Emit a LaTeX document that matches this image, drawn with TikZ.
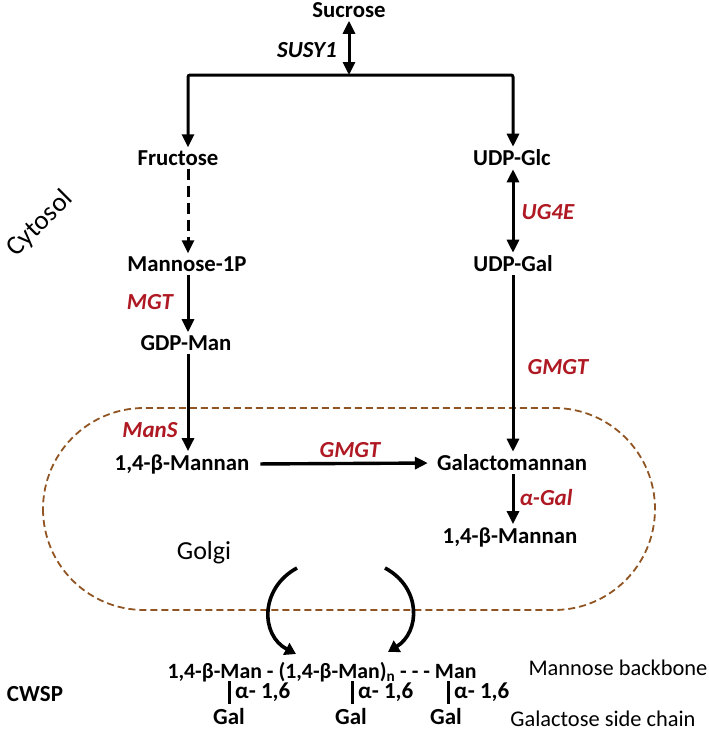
\documentclass[tikz,border=0pt]{standalone}
\usepackage{fontspec}
\setmainfont{Carlito}
\usetikzlibrary{arrows.meta}
\definecolor{enz}{RGB}{175,25,35}
\definecolor{golgic}{RGB}{145,85,35}
\begin{document}
\begin{tikzpicture}[x=1pt,y=-1pt,
  lab/.style={font=\fontsize{22.8}{25}\selectfont\bfseries, inner sep=3pt},
  enzlab/.style={font=\fontsize{23}{25}\selectfont\bfseries\itshape, text=enz, inner sep=1pt},
  reglab/.style={font=\fontsize{22.4}{25}\selectfont, inner sep=1pt},
  botlab/.style={font=\fontsize{21.8}{24}\selectfont\bfseries, inner sep=1pt},
  sublab/.style={font=\fontsize{23}{25}\selectfont\bfseries, inner sep=1pt},
  tip/.tip={Triangle[width=12pt,length=13pt]},
  arr/.style={line width=3pt, -tip},
  darr/.style={line width=3pt, tip-tip},
  curv/.style={line width=3.6pt, -{Triangle[width=13pt,length=11pt]}},
  golgiline/.style={draw=golgic, line width=1.8pt, dash pattern=on 7pt off 4pt}
]
\useasboundingbox (0,0) rectangle (709,731);

% Golgi outline
\draw[golgiline, rounded corners=101pt] (43,408) rectangle (655,610);

% labels
\node[lab] (suc) at (349,10) {Sucrose};
\node[enzlab, text=black] (susy) at (307,50) {SUSY1};
\coordinate (top) at (349,75);
\coordinate (tl) at (188,75);
\coordinate (tr) at (513,75);
\node[lab] (fru) at (178,158) {Fructose};
\node[lab] (glc) at (512,158) {UDP-Glc};
\node[lab] (m1p) at (187,264) {Mannose-1P};
\node[lab] (gal) at (513,264) {UDP-Gal};
\node[enzlab] (mgt) at (150,302) {MGT};
\node[enzlab] (ug4e) at (548,212) {UG4E};
\node[lab] (gdp) at (186,343) {GDP-Man};
\node[enzlab] (gmgt1) at (558,367) {GMGT};
\node[enzlab] (mans) at (150,430) {ManS};
\node[lab] (man1) at (182,464) {1,4-β-Mannan};
\node[lab] (gm) at (512,463) {Galactomannan};
\node[enzlab] (gmgt2) at (350,450) {GMGT};
\node[enzlab] (agal) at (546,498) {α-Gal};
\node[lab] (man2) at (510,537) {1,4-β-Mannan};
\node[font=\fontsize{26}{28}\selectfont] (golgi) at (204,553) {Golgi};
\node[font=\fontsize{27}{29}\selectfont, rotate=45, inner sep=0pt] (cyto) at (40,224) {Cytosol};

% connectors
\draw[darr] (suc.south) -- (top);
\draw[arr, rounded corners=2pt] (top) -- (tl) -- (fru.north -| tl);
\draw[arr, rounded corners=2pt] (top) -- (tr) -- (glc.north -| tr);
\draw[arr, dash pattern=on 11pt off 6pt] (fru.south -| tl) -- (m1p.north -| tl);
\draw[arr] (m1p.south -| tl) -- (gdp.north -| tl);
\draw[arr] (gdp.south -| tl) -- (man1.north -| tl);
\draw[darr] (glc.south -| tr) -- (gal.north -| tr);
\draw[arr] (gal.south -| tr) -- (gm.north -| tr);
\draw[arr, line width=3.4pt, shorten <=8pt, shorten >=6pt] (man1.east) -- (gm.west);
\draw[arr] (gm.south -| tr) -- (man2.north -| tr);

% curved arrows from Golgi to wall
\coordinate (cl1) at (297,568);
\coordinate (cl2) at (296,654);
\coordinate (cr1) at (385,568);
\coordinate (cr2) at (388,652);
\draw[curv] (cl1) .. controls (260,588) and (260,635) .. (cl2);
\draw[curv] (cr1) .. controls (422,588) and (420,632) .. (cr2);

% cell wall polysaccharide
\node[botlab] (bb) at (322,672) {1,4-β-Man - (1,4-β-Man)\textsubscript{n} - - - Man};
\coordinate (b1t) at (229,681); \coordinate (b1b) at (229,704);
\coordinate (b2t) at (352,681); \coordinate (b2b) at (352,704);
\coordinate (b3t) at (448,681); \coordinate (b3b) at (448,704);
\draw[line width=3pt] (b1t) -- (b1b);
\draw[line width=3pt] (b2t) -- (b2b);
\draw[line width=3pt] (b3t) -- (b3b);
\node[sublab, anchor=west] (a1) at (234,692) {α- 1,6};
\node[sublab, anchor=west] (a2) at (357,692) {α- 1,6};
\node[sublab, anchor=west] (a3) at (453,692) {α- 1,6};
\node[sublab, anchor=base, inner sep=0pt, text depth=0pt] (g1) at (229,724) {Gal};
\node[sublab, anchor=base, inner sep=0pt, text depth=0pt] (g2) at (351,724) {Gal};
\node[sublab, anchor=base, inner sep=0pt, text depth=0pt] (g3) at (446,724) {Gal};
\node[reglab] (mb) at (618,668) {Mannose backbone};
\node[reglab, anchor=base, inner sep=0pt, text depth=0pt] (gsc) at (603,726) {Galactose side chain};
\node[sublab] (cwsp) at (35,694) {CWSP};
\end{tikzpicture}
\end{document}
